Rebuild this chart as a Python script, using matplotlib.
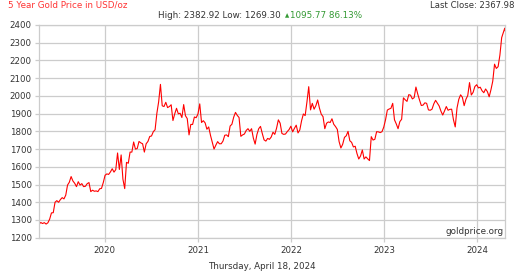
import numpy as np
import pandas as pd
import matplotlib
matplotlib.use('Agg')
import matplotlib.pyplot as plt
import matplotlib.dates as mdates

# weekly gold prices (USD/oz), one value per week
p2019 = [1275, 1286, 1280, 1285, 1277, 1284, 1305, 1340, 1341, 1400, 1409, 1400,
         1415, 1426, 1419, 1440, 1497, 1513, 1545, 1520, 1507, 1488, 1516, 1497,
         1505, 1488, 1490, 1505, 1511, 1460, 1468, 1462, 1464, 1460, 1476, 1478, 1511]
p2020 = [1552, 1560, 1557, 1571, 1589, 1570, 1584, 1678, 1585, 1667, 1530, 1477,
         1625, 1620, 1683, 1683, 1740, 1700, 1703, 1743, 1735, 1730, 1683, 1730,
         1743, 1771, 1774, 1798, 1809, 1902, 1967, 2065, 1944, 1940, 1964, 1934,
         1940, 1950, 1861, 1899, 1930, 1899, 1902, 1878, 1951, 1888, 1872, 1780,
         1839, 1839, 1881, 1877]
p2021 = [1898, 1955, 1850, 1860, 1848, 1812, 1825, 1778, 1740, 1700, 1722, 1742,
         1730, 1730, 1745, 1778, 1780, 1770, 1830, 1840, 1880, 1907, 1890, 1878,
         1772, 1780, 1785, 1805, 1815, 1800, 1815, 1762, 1728, 1782, 1815, 1828,
         1788, 1752, 1745, 1760, 1755, 1768, 1795, 1783, 1818, 1865, 1846, 1788,
         1783, 1785, 1799, 1810, 1829]
p2022 = [1797, 1817, 1835, 1791, 1808, 1860, 1898, 1889, 1966, 2052, 1921, 1958,
         1925, 1945, 1977, 1931, 1897, 1883, 1815, 1846, 1853, 1850, 1871, 1840,
         1827, 1811, 1742, 1706, 1727, 1766, 1775, 1800, 1747, 1738, 1712, 1716,
         1675, 1644, 1661, 1695, 1644, 1656, 1645, 1635, 1770, 1751, 1755, 1798,
         1797, 1793, 1798, 1824]
p2023 = [1866, 1920, 1926, 1930, 1958, 1865, 1842, 1815, 1855, 1868, 1989, 1978,
         1969, 2007, 2004, 1983, 1990, 2050, 2011, 1977, 1946, 1948, 1961, 1958,
         1921, 1919, 1925, 1955, 1975, 1959, 1943, 1914, 1892, 1915, 1940, 1919,
         1924, 1925, 1866, 1825, 1932, 1981, 2006, 1992, 1945, 1981, 2002, 2075,
         2005, 2020, 2053, 2063]
p2024 = [2045, 2049, 2029, 2018, 2039, 2024, 1995, 2035, 2083, 2179, 2155, 2165,
         2230, 2329, 2360, 2382]
last_close = 2367.98

prices = p2019 + p2020 + p2021 + p2022 + p2023 + p2024
dates = list(pd.date_range('2019-04-19', periods=len(prices), freq='W-FRI'))
dates[-1] = pd.Timestamp('2024-04-17')
dates.append(pd.Timestamp('2024-04-18'))
prices.append(last_close)

years = [2020, 2021, 2022, 2023, 2024]

W, H = 520, 272
fig = plt.figure(figsize=(W / 100, H / 100), dpi=100)
ax = fig.add_axes([38.7 / W, 1 - 237.7 / H, (505 - 38.7) / W, (237.7 - 25) / H])

ax.plot(dates, prices, color='#ff0000', lw=0.8)

ax.set_ylim(1200, 2400)
ax.set_yticks(np.arange(1200, 2401, 100))
ax.set_xlim(pd.Timestamp('2019-04-18'), pd.Timestamp('2024-04-18'))
ax.set_xticks([pd.Timestamp(f'{y}-01-01') for y in years])
ax.xaxis.set_major_formatter(mdates.DateFormatter('%Y'))

grid_c = '#cccccc'
ax.grid(True, color=grid_c, lw=0.9)
ax.set_axisbelow(True)
for s in ax.spines.values():
    s.set_color(grid_c)
    s.set_linewidth(0.9)
ax.tick_params(axis='both', colors=grid_c, length=3, width=0.9,
               labelcolor='#333333', labelsize=6.2)
ax.tick_params(axis='y', pad=2)
ax.tick_params(axis='x', pad=3)

def px(x, y):
    return x / W, 1 - y / H

fig.text(*px(8, 5), '5 Year Gold Price in USD/oz', color='#ff3333',
         fontsize=6.3, ha='left', va='center')
fig.text(*px(515, 5), f'Last Close: {last_close:.2f}', color='#333333',
         fontsize=6.1, ha='right', va='center')
fig.text(*px(284, 15), 'High: 2382.92 Low: 1269.30 ', color='#333333',
         fontsize=6.3, ha='right', va='center')
fig.text(*px(287.5, 15.5), '\u25b2', color='#339933', fontsize=4,
         ha='center', va='center')
fig.text(*px(290, 15), '1095.77 86.13%', color='#339933',
         fontsize=6.3, ha='left', va='center')
fig.text(*px(262, 266.5), 'Thursday, April 18, 2024', color='#333333',
         fontsize=6.3, ha='center', va='center')
ax.text(0.996, 0.01, 'goldprice.org', transform=ax.transAxes, color='#333333',
        fontsize=6.3, ha='right', va='bottom')

fig.savefig('out.png', dpi=100)
